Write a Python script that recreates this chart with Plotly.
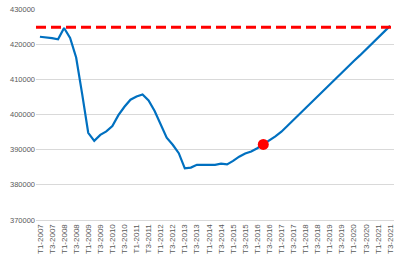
import plotly.graph_objects as go

quarters = [f"T{q}-{y}" for y in range(2007, 2022) for q in (1, 2, 3, 4)][:59]
values = [422100, 422000, 421700, 421400, 424600, 421800, 416200, 405800, 394800, 392500,
          394200, 395200, 396700, 399800, 402200, 404200, 405100, 405700, 404000, 401000,
          397200, 393400, 391400, 389000, 384700, 384900, 385700, 385700, 385600, 385700,
          386000, 385800, 386800, 388000, 388900, 389500, 390400, 391500, 392700, 393800,
          395100, 396800, 398400, 400100, 401800, 403500, 405100, 406800, 408500, 410100,
          411800, 413500, 415200, 416800, 418500, 420200, 421800, 423500, 425200]
target_value = 424800
marker_quarter = "T2-2016"
marker_value = 391500
tick_labels = [q for q in quarters if q.startswith("T1") or q.startswith("T3")]
y_ticks = [370000, 380000, 390000, 400000, 410000, 420000, 430000]

fig = go.Figure()
fig.add_trace(go.Scatter(x=quarters, y=values, mode="lines",
                         line=dict(color="#0070C0", width=2.2), hoverinfo="skip"))
fig.add_trace(go.Scatter(x=[marker_quarter], y=[marker_value], mode="markers",
                         marker=dict(color="#FF0000", size=11), hoverinfo="skip"))
fig.add_shape(type="line", xref="paper", x0=0, x1=1, yref="y", y0=target_value, y1=target_value,
              line=dict(color="#FF0000", width=3, dash="10px,5px"), layer="above")

fig.update_layout(
    width=400, height=259,
    margin=dict(l=36, r=5, t=6, b=37),
    paper_bgcolor="white", plot_bgcolor="white",
    showlegend=False,
    font=dict(family="Liberation Sans, Arial, sans-serif", size=8, color="#595959"),
)
fig.update_xaxes(type="category", categoryorder="array", categoryarray=quarters,
                 range=[-0.65, len(quarters) - 1 + 0.65],
                 tickmode="array", tickvals=tick_labels, ticktext=tick_labels,
                 tickangle=-90, showgrid=False, showline=True, linecolor="#D9D9D9",
                 linewidth=1, zeroline=False, ticks="", tickfont=dict(size=8))
fig.update_yaxes(range=[370000, 430000], tickmode="array", tickvals=y_ticks,
                 ticktext=[str(v) for v in y_ticks],
                 showgrid=True, gridcolor="#D9D9D9", gridwidth=1, zeroline=False,
                 showline=False, ticks="", tickfont=dict(size=7.5))

fig.write_html("out.html")
